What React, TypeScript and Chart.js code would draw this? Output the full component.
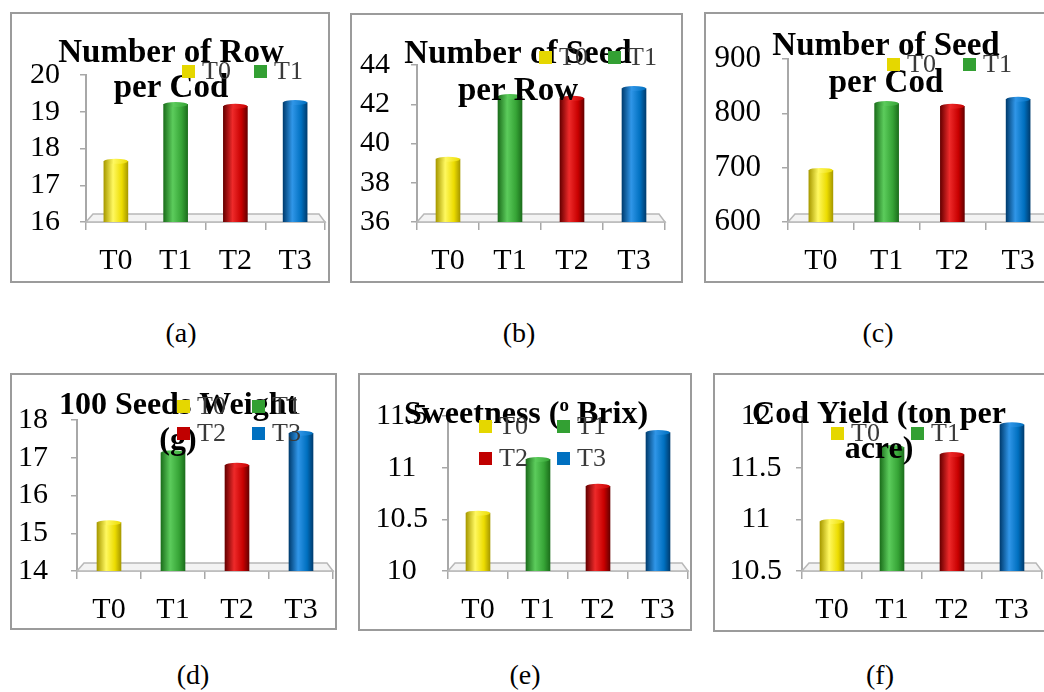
import React, { useEffect, useRef } from 'react';
import { Chart, registerables } from 'chart.js';

Chart.register(...registerables);

// ---------- data ----------
const categories = ['T0', 'T1', 'T2', 'T3'];

const rowsPerCod = [17.65, 19.2, 19.15, 19.25];
const seedsPerRow = [39.2, 42.4, 42.3, 42.8];
const seedsPerCod = [695, 818, 813, 826];
const seedWeight100 = [15.28, 17.13, 16.8, 17.65];
const sweetnessBrix = [10.56, 11.08, 10.82, 11.34];
const codYield = [10.98, 11.7, 11.63, 11.92];

// axis ranges: [min, max, step]
const rangeRows = [16, 20, 1];
const rangeSeedsRow = [36, 44, 2];
const rangeSeedsCod = [600, 900, 100];
const rangeWeight = [14, 18, 1];
const rangeBrix = [10, 11.5, 0.5];
const rangeYield = [10.5, 12, 0.5];

// ---------- styles ----------
const barShades = [
  { dark: '#a89a00', light: '#fff860', mid: '#ecdc00', solid: '#e5d700' },
  { dark: '#1c6f1c', light: '#5ccc5c', mid: '#36a436', solid: '#33a033' },
  { dark: '#680000', light: '#ee2a2a', mid: '#c80000', solid: '#c00000' },
  { dark: '#003d70', light: '#3096e8', mid: '#0070c0', solid: '#0070c0' },
];
const FONT = '"Liberation Serif", "Times New Roman", serif';

type Seg = { t: string; sup?: boolean };
type PanelCfg = {
  caption: string;
  capPos: [number, number];
  values: number[];
  range: number[];
  box: [number, number, number, number];
  plot: [number, number, number, number];
  gap: number;
  tickSize: number;
  titleSize: number;
  title: { cx: number; baselines: number[]; lines: Seg[][] };
  legend: [number, number, number][];
};

const panels: PanelCfg[] = [
  {
    caption: '(a)', capPos: [181, 333], values: rowsPerCod, range: rangeRows,
    box: [10, 12, 320, 271], plot: [86, 75, 325, 222], gap: 26, tickSize: 30, titleSize: 33,
    title: { cx: 171, baselines: [62, 97], lines: [[{ t: 'Number of Row' }], [{ t: 'per Cod' }]] },
    legend: [[0, 182, 65], [1, 254, 65]],
  },
  {
    caption: '(b)', capPos: [519, 333], values: seedsPerRow, range: rangeSeedsRow,
    box: [350, 13, 333, 270], plot: [417, 65, 665, 222], gap: 27, tickSize: 30, titleSize: 33,
    title: { cx: 518, baselines: [63, 100], lines: [[{ t: 'Number of Seed' }], [{ t: 'per Row' }]] },
    legend: [[0, 539, 51], [1, 608, 51]],
  },
  {
    caption: '(c)', capPos: [878, 333], values: seedsPerCod, range: rangeSeedsCod,
    box: [704, 12, 370, 271], plot: [788, 59, 1051, 222], gap: 27, tickSize: 31, titleSize: 33,
    title: { cx: 886, baselines: [55, 92], lines: [[{ t: 'Number of Seed' }], [{ t: 'per Cod' }]] },
    legend: [[0, 887, 58], [1, 963, 58]],
  },
  {
    caption: '(d)', capPos: [193, 675], values: seedWeight100, range: rangeWeight,
    box: [10, 373, 327, 257], plot: [77, 420, 333, 571], gap: 29, tickSize: 30, titleSize: 32,
    title: { cx: 178, baselines: [414, 449], lines: [[{ t: '100 Seeds Weight' }], [{ t: '(g)' }]] },
    legend: [[0, 177, 400], [1, 252, 400], [2, 177, 427], [3, 252, 427]],
  },
  {
    caption: '(e)', capPos: [525, 675], values: sweetnessBrix, range: rangeBrix,
    box: [358, 373, 334, 258], plot: [448, 416, 688, 571], gap: 20, tickSize: 30, titleSize: 32,
    title: { cx: 526, baselines: [423], lines: [[{ t: 'Sweetness (' }, { t: 'o', sup: true }, { t: ' Brix)' }]] },
    legend: [[0, 479, 420], [1, 557, 420], [2, 479, 452], [3, 557, 452]],
  },
  {
    caption: '(f)', capPos: [880, 675], values: codYield, range: rangeYield,
    box: [713, 373, 360, 259], plot: [802, 416.5, 1042, 571], gap: 20, tickSize: 30, titleSize: 32,
    title: { cx: 879, baselines: [423, 458], lines: [[{ t: 'Cod Yield (ton per' }], [{ t: 'acre)' }]] },
    legend: [[0, 831, 427], [1, 911, 427]],
  },
];

function makeDecor(p: PanelCfg, ox: number, oy: number) {
  return {
    id: 'decor' + p.caption.replace(/[()]/g, ''),
    beforeDatasetsDraw(chart: any) {
      const { ctx, chartArea } = chart;
      const L = chartArea.left, R = chartArea.right, B = chartArea.bottom;
      ctx.save();
      ctx.beginPath();
      ctx.moveTo(L, B);
      ctx.lineTo(L + 7, B - 8);
      ctx.lineTo(R - 6, B - 8);
      ctx.lineTo(R, B);
      ctx.closePath();
      ctx.fillStyle = '#f3f3f3';
      ctx.fill();
      ctx.strokeStyle = '#b8b8b8';
      ctx.lineWidth = 1.5;
      ctx.stroke();
      ctx.restore();
    },
    afterDatasetsDraw(chart: any) {
      const { ctx } = chart;
      const meta = chart.getDatasetMeta(0);
      ctx.save();
      meta.data.forEach((el: any, i: number) => {
        const { x, y, width } = el.getProps(['x', 'y', 'width'], true);
        if (!isFinite(x) || !isFinite(y) || !isFinite(width)) return;
        const sh = barShades[i % barShades.length];
        const g = ctx.createLinearGradient(x - width / 2, 0, x + width / 2, 0);
        g.addColorStop(0, sh.dark);
        g.addColorStop(0.4, sh.light);
        g.addColorStop(1, sh.mid);
        ctx.beginPath();
        ctx.ellipse(x, y, width / 2, 2.5, 0, 0, Math.PI * 2);
        ctx.fillStyle = g;
        ctx.fill();
      });
      ctx.restore();
    },
    afterDraw(chart: any) {
      const { ctx } = chart;
      ctx.save();
      const size = p.titleSize;
      p.title.lines.forEach((segs, li) => {
        const base = p.title.baselines[li] - oy;
        const fonts = segs.map((s) => `bold ${s.sup ? Math.round(size * 0.6) : size}px ${FONT}`);
        const widths = segs.map((s, i) => {
          ctx.font = fonts[i];
          return ctx.measureText(s.t).width;
        });
        const total = widths.reduce((a, b) => a + b, 0);
        let x = p.title.cx - ox - total / 2;
        ctx.fillStyle = '#000';
        ctx.textAlign = 'left';
        ctx.textBaseline = 'alphabetic';
        segs.forEach((s, i) => {
          ctx.font = fonts[i];
          ctx.fillText(s.t, x, base - (s.sup ? size * 0.38 : 0));
          x += widths[i];
        });
      });
      ctx.font = `26px ${FONT}`;
      ctx.textBaseline = 'middle';
      ctx.textAlign = 'left';
      p.legend.forEach(([ci, lx, ly]) => {
        const sh = barShades[ci];
        ctx.fillStyle = sh.solid;
        ctx.fillRect(lx - ox, ly - oy, 13, 13);
        ctx.fillStyle = '#3a3a3a';
        ctx.fillText(categories[ci], lx - ox + 20, ly - oy + 7.5);
      });
      ctx.restore();
    },
  };
}

function Panel({ p }: { p: PanelCfg }) {
  const ref = useRef<HTMLCanvasElement>(null);
  const [bx, by, bw, bh] = p.box;
  const cx = bx + 2, cy = by + 2, cw = bw - 4, ch = bh - 4;

  useEffect(() => {
    const canvas = ref.current;
    if (!canvas) return;
    const [L, T, R, B] = p.plot;
    const [mn, mx, step] = p.range;
    const chart = new Chart(canvas, {
      type: 'bar',
      data: {
        labels: categories,
        datasets: [
          {
            data: p.values,
            barThickness: 24,
            borderWidth: 0,
            backgroundColor: (c: any) => {
              const idx = typeof c.dataIndex === 'number' ? c.dataIndex : 0;
              const sh = barShades[idx % barShades.length];
              const xs = c.chart && c.chart.scales && c.chart.scales.x;
              if (c.type !== 'data' || !xs) return sh.mid;
              const x = xs.getPixelForValue(idx);
              if (!isFinite(x)) return sh.mid;
              const g = c.chart.ctx.createLinearGradient(x - 12, 0, x + 12, 0);
              g.addColorStop(0, sh.dark);
              g.addColorStop(0.38, sh.light);
              g.addColorStop(0.75, sh.mid);
              g.addColorStop(1, sh.dark);
              return g;
            },
          } as any,
        ],
      },
      options: {
        animation: false,
        responsive: false,
        maintainAspectRatio: false,
        layout: { padding: { left: 0, top: T - cy, right: cx + cw - R, bottom: 0 } },
        plugins: {
          legend: { display: false },
          title: { display: false },
          tooltip: { enabled: false },
        },
        scales: {
          x: {
            grid: {
              offset: true,
              drawOnChartArea: false,
              drawTicks: true,
              tickLength: 8,
              color: '#a8a8a8',
              lineWidth: 1.5,
            },
            border: { display: true, color: '#a8a8a8', width: 1.5 },
            ticks: {
              font: { family: FONT, size: 30 },
              color: '#000',
              padding: 13,
              maxRotation: 0,
              autoSkip: false,
            },
            afterFit: (s: any) => {
              s.height = cy + ch - B;
            },
          },
          y: {
            min: mn,
            max: mx,
            ticks: {
              stepSize: step,
              autoSkip: false,
              font: { family: FONT, size: p.tickSize },
              color: '#000',
              padding: p.gap - 6,
              crossAlign: 'center',
              callback: (v: any) => String(Math.round(Number(v) * 100) / 100),
            },
            grid: { drawOnChartArea: false, drawTicks: true, tickLength: 6, color: '#a8a8a8', lineWidth: 1.5 },
            border: { display: true, color: '#a8a8a8', width: 2 },
            afterFit: (s: any) => {
              s.width = L - cx;
            },
          },
        },
      } as any,
      plugins: [makeDecor(p, cx, cy)],
    });
    return () => chart.destroy();
  }, []);

  return (
    <>
      <div
        style={{
          position: 'absolute',
          left: bx,
          top: by,
          width: bw,
          height: bh,
          border: '2px solid #9b9b9b',
          boxSizing: 'border-box',
          background: '#fff',
        }}
      >
        <canvas
          ref={ref}
          width={cw}
          height={ch}
          style={{ display: 'block', position: 'absolute', left: 0, top: 0, width: cw, height: ch }}
        />
      </div>
      <div
        style={{
          position: 'absolute',
          left: p.capPos[0],
          top: p.capPos[1],
          transform: 'translate(-50%, -50%)',
          fontFamily: FONT,
          fontSize: 28,
          color: '#000',
          whiteSpace: 'nowrap',
          lineHeight: 1,
        }}
      >
        {p.caption}
      </div>
    </>
  );
}

export default function App() {
  return (
    <div
      style={{
        position: 'absolute',
        left: 0,
        top: 0,
        width: 1044,
        height: 692,
        overflow: 'hidden',
        background: '#fff',
      }}
    >
      {panels.map((p) => (
        <Panel key={p.caption} p={p} />
      ))}
    </div>
  );
}
